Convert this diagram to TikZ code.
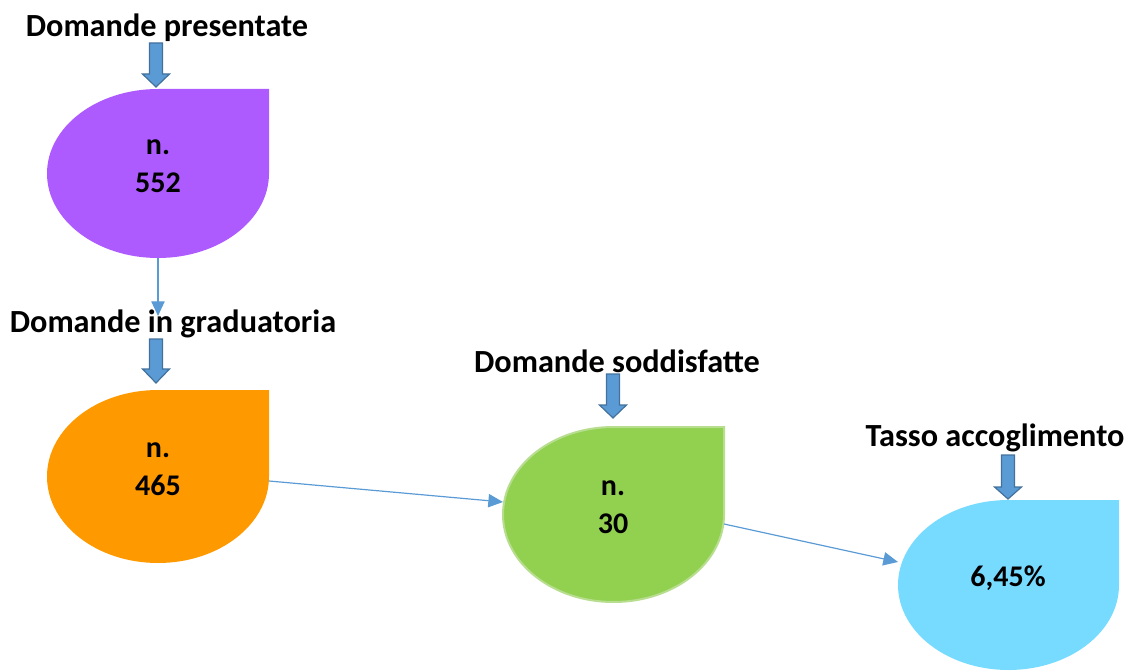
\documentclass[tikz,border=0pt]{standalone}
\usepackage{fontspec}
\setmainfont{Carlito}
\usetikzlibrary{arrows.meta}
\definecolor{cpurple}{HTML}{AD5BFF}
\definecolor{corange}{HTML}{FF9900}
\definecolor{cgreen}{HTML}{92D050}
\definecolor{cgreenedge}{HTML}{B7DD8F}
\definecolor{cblue}{HTML}{77DBFF}
\definecolor{arrfill}{HTML}{5B9BD5}
\definecolor{arredge}{HTML}{41719C}
\definecolor{linkc}{HTML}{5B9BD5}
\newcommand\tdrop[5]{%
  % #1 cx, #2 cy, #3 rx, #4 ry, #5 style
  \path[#5] (#1,{#2-#4}) -- ({#1+#3},{#2-#4}) -- ({#1+#3},#2)
    arc[start angle=0,end angle=270,x radius=#3,y radius=#4] -- cycle;}
\newcommand\bdarrow[4]{%
  % #1 x centre, #2 top, #3 head start, #4 tip
  \path[blockarr] ({#1-6.5},#2) -- ({#1+6.5},#2) -- ({#1+6.5},#3) -- ({#1+13.5},#3)
    -- (#1,#4) -- ({#1-13.5},#3) -- ({#1-6.5},#3) -- cycle;}
\begin{document}
\begin{tikzpicture}[x=0.75pt,y=-0.75pt,
  title/.style={font=\bfseries\fontsize{24.2}{28}\selectfont,anchor=base,inner sep=0pt},
  val/.style={font=\bfseries\fontsize{22.5}{28.5}\selectfont,align=center,inner sep=0pt},
  blockarr/.style={fill=arrfill,draw=arredge,line width=0.9pt,line join=miter},
  link/.style={draw=linkc,line width=0.9pt,-{Triangle[length=11pt,width=10pt]}}]
\useasboundingbox (0,0) rectangle (1128,670);
% shapes
\tdrop{158}{173.5}{111}{84.5}{fill=cpurple}
\tdrop{158}{476.5}{111}{86.5}{fill=corange}
\tdrop{613.5}{514.5}{110.5}{87.5}{fill=cgreen,draw=cgreenedge,line width=1.5pt}
\tdrop{1008.5}{585}{110.5}{85}{fill=cblue}
% values
\node[val] (v1) at (158,166) {n.\\552};
\node[val] (v2) at (158,469) {n.\\465};
\node[val] (v3) at (613,507) {n.\\30};
\node[val] (v4) at (1008,578) {6,45\%};
% titles
\node[title] (t1) at (167,37) {Domande presentate};
\node[title] (t2) at (173,333) {Domande in graduatoria};
\node[title] (t3) at (617,372) {Domande soddisfatte};
\node[title] (t4) at (995,446) {Tasso accoglimento};
% block arrows
\bdarrow{156}{43}{74}{87}
\bdarrow{156}{339}{369}{383}
\bdarrow{613}{374}{405}{418}
\bdarrow{1008}{455}{487}{499}
% connection points
\coordinate (s1b) at (158,258);
\coordinate (s2t) at (158,316);
\coordinate (s2r) at (269,481);
\coordinate (s3l) at (503,502);
\coordinate (s3r) at (724,524);
\coordinate (s4l) at (898,562);
\draw[link] (s1b) -- (s2t);
\draw[link] (s2r) -- (s3l);
\draw[link] (s3r) -- (s4l);
\end{tikzpicture}
\end{document}
